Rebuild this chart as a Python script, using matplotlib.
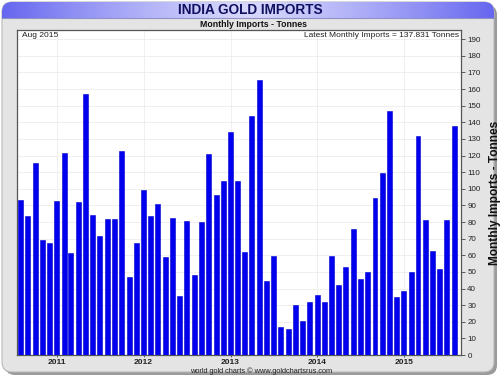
import numpy as np
import pandas as pd
import matplotlib
matplotlib.use("Agg")
import matplotlib.pyplot as plt
from matplotlib.patches import FancyBboxPatch

plt.rcParams["font.family"] = ["Liberation Sans", "DejaVu Sans"]

# ---- data ----
start_month = "2010-08-01"
imports_tonnes = [
    93.0, 83.6, 115.4, 69.0, 67.5,                                              # 2010 Aug-Dec
    92.5, 121.3, 61.3, 91.8, 156.8, 84.3, 71.7, 82.0, 81.6, 123.0, 47.1, 67.5,   # 2011
    99.0, 83.6, 90.6, 58.9, 82.7, 35.7, 80.8, 47.9, 80.3, 120.9, 96.5, 104.7,    # 2012
    134.4, 104.7, 61.9, 143.5, 165.2, 44.3, 59.6, 17.0, 15.9, 29.9, 20.6, 32.1,  # 2013
    36.1, 32.1, 59.7, 42.1, 52.7, 75.8, 45.5, 50.1, 94.6, 109.7, 146.9, 34.7,    # 2014
    38.7, 50.1, 131.7, 81.5, 62.7, 51.9, 81.2, 137.831,                          # 2015
]
year_ticks = ["2011", "2012", "2013", "2014", "2015"]
y_ticks = list(range(0, 200, 10))

months = pd.date_range(start_month, periods=len(imports_tonnes), freq="MS")

W, H = 500, 378
fig = plt.figure(figsize=(W / 100, H / 100), dpi=100)
fig.patch.set_facecolor("white")

# ---- background panel ----
bg = fig.add_axes([0, 0, 1, 1])
bg.set_xlim(0, W)
bg.set_ylim(H, 0)
bg.axis("off")
bg.add_patch(FancyBboxPatch((5, 5), W - 8, H - 8, boxstyle="round,pad=0,rounding_size=10",
                            fc="#9a9a9a", ec="none", zorder=0))
bg.add_patch(FancyBboxPatch((2, 2), W - 8, H - 8, boxstyle="round,pad=0,rounding_size=10",
                            fc="#e4e4e4", ec="#b8b8b8", lw=0.8, zorder=1))
xs = np.linspace(-1, 1, 400)
t = np.abs(xs) ** 1.3
c_edge = np.array([0.40, 0.40, 0.94])
c_mid = np.array([0.84, 0.84, 0.99])
grad = (c_mid[None, :] * (1 - t[:, None]) + c_edge[None, :] * t[:, None])[None, :, :]
clip = FancyBboxPatch((2, 2), W - 8, 26, boxstyle="round,pad=0,rounding_size=10",
                      fc="none", ec="none", zorder=2)
bg.add_patch(clip)
im = bg.imshow(grad, extent=(2, W - 6, 18, 2), aspect="auto", zorder=2)
im.set_clip_path(clip)
bg.plot([2, W - 6], [18, 18], color="#9090c8", lw=0.8, zorder=3)

fig.text(250 / W, 1 - 10.5 / H, "INDIA GOLD IMPORTS", ha="center", va="center",
         fontsize=9.8, fontweight="bold", color="#101060")
fig.text(253 / W, 1 - 24.5 / H, "Monthly Imports - Tonnes", ha="center", va="center",
         fontsize=6.3, fontweight="bold", color="#111111")
fig.text(261 / W, 1 - 371.5 / H, "world gold charts \u00a9 www.goldchartsrus.com", ha="center",
         va="center", fontsize=5.3, color="#222222")

# ---- main axes ----
left, right, top, bottom = 17, 461, 30, 355
ax = fig.add_axes([left / W, (H - bottom) / H, (right - left) / W, (bottom - top) / H])
ax.set_facecolor("white")
ax.bar(months, imports_tonnes, width=21, color="#0000ee", edgecolor="#0000cc",
       linewidth=0.4, align="center", zorder=3)

ax.set_ylim(0, 195.5)
ax.set_xlim(pd.Timestamp("2010-07-17"), pd.Timestamp("2015-08-29"))
ax.yaxis.tick_right()
ax.set_yticks(y_ticks)
ax.set_yticklabels([str(v) for v in y_ticks], fontsize=5.8, color="#222222")
ax.tick_params(axis="y", length=3, width=0.6, pad=1.5, color="#444444")
ax.set_xticks([pd.Timestamp(f"{y}-01-01") for y in year_ticks])
ax.set_xticklabels(year_ticks, fontsize=6, fontweight="bold", color="#222222")
ax.tick_params(axis="x", length=3, width=0.6, pad=1.5, color="#444444", direction="inout")
ax.grid(True, color="#ececec", lw=0.6, zorder=0)
ax.set_axisbelow(True)
for s in ax.spines.values():
    s.set_color("#555555")
    s.set_linewidth(0.9)

ax.yaxis.set_label_position("right")
ax.set_ylabel("Monthly Imports - Tonnes", fontsize=8.6, fontweight="bold", color="#111111",
              labelpad=6)

ax.text(0.012, 0.995, "Aug 2015", transform=ax.transAxes, ha="left", va="top",
        fontsize=6, color="#222222")
ax.text(0.995, 0.995, "Latest Monthly Imports = 137.831 Tonnes", transform=ax.transAxes,
        ha="right", va="top", fontsize=6, color="#222222")

fig.savefig("out.png", dpi=100)
